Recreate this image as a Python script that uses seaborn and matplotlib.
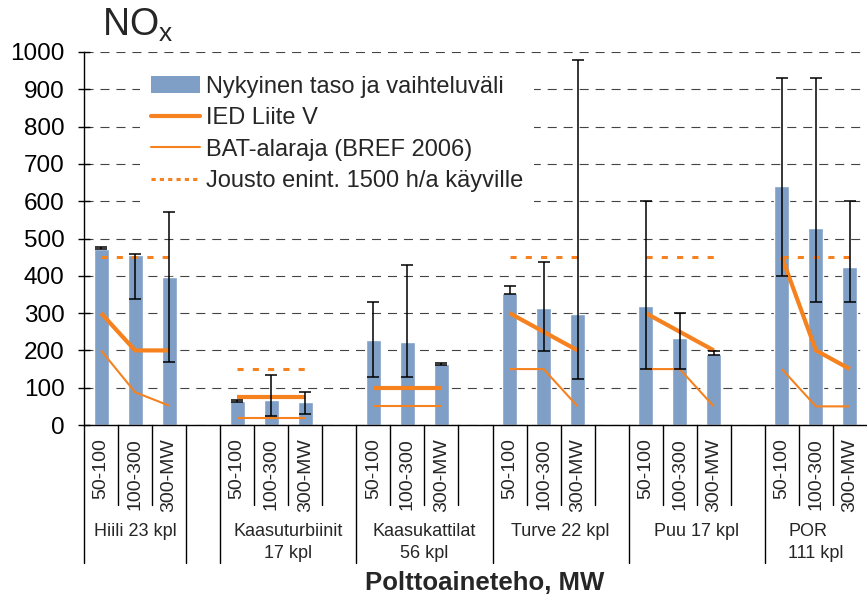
import pandas as pd
import seaborn as sns
import matplotlib.pyplot as plt
import numpy as np
from matplotlib.patches import Patch
from matplotlib.lines import Line2D
import matplotlib.transforms as mtransforms

# Data
groups = ["Hiili 23 kpl", "Kaasuturbiinit\n17 kpl", "Kaasukattilat\n56 kpl",
          "Turve 22 kpl", "Puu 17 kpl", "POR\n111 kpl"]
sizes = ["50-100", "100-300", "300-MW"]
level = [[473, 455, 397], [64, 67, 62], [228, 222, 163],
         [353, 314, 298], [319, 232, 190], [641, 527, 423]]
err_lo = [[472, 339, 170], [63, 24, 30], [130, 130, 161],
          [351, 198, 123], [150, 150, 188], [400, 330, 330]]
err_hi = [[476, 458, 570], [66, 133, 88], [330, 430, 166],
          [373, 438, 978], [600, 300, 198], [930, 930, 600]]
ied = [[300, 200, 200], [75, 75, 75], [100, 100, 100],
       [300, 250, 200], [300, 250, 200], [450, 200, 150]]
bat = [[200, 88, 52], [20, 20, 20], [50, 50, 50],
       [150, 150, 50], [150, 150, 50], [150, 50, 50]]
jousto = [450, 150, None, 450, 450, 450]

legend_labels = ["Nykyinen taso ja vaihteluväli", "IED Liite V",
                 "BAT-alaraja (BREF 2006)", "Jousto enint. 1500 h/a käyville"]

blue = "#7F9FC7"
orange = "#F5821F"

# slot order: 3 bars per group, one empty slot between groups
order = []
rows = []
for gi, g in enumerate(groups):
    for si, s in enumerate(sizes):
        key = f"{gi}-{s}"
        order.append(key)
        rows.append({"slot": key, "value": level[gi][si]})
    if gi < len(groups) - 1:
        order.append(f"gap{gi}")
df = pd.DataFrame(rows)
pos = {k: i for i, k in enumerate(order)}

sns.set_style("white")
plt.rcParams["font.family"] = ["Liberation Sans", "DejaVu Sans"]
plt.rcParams["lines.scale_dashes"] = False

fig = plt.figure(figsize=(8.67, 6.01), dpi=100)
ax = fig.add_axes([0.0969, 0.2928, 0.9031, 0.6207])

sns.barplot(data=df, x="slot", y="value", order=order, color=blue,
            saturation=1, width=0.44, errorbar=None, ax=ax, zorder=2)

for gi in range(len(groups)):
    xs = [pos[f"{gi}-{s}"] for s in sizes]
    lo = np.array(level[gi]) - np.array(err_lo[gi])
    hi = np.array(err_hi[gi]) - np.array(level[gi])
    ax.errorbar(xs, level[gi], yerr=[lo, hi], fmt="none", ecolor="black",
                elinewidth=1.1, capsize=4.2, capthick=1.1, zorder=4)
    ax.plot(xs, ied[gi], color=orange, lw=3, solid_capstyle="butt", zorder=3)
    ax.plot(xs, bat[gi], color=orange, lw=1.5, solid_capstyle="butt", zorder=3)
    if jousto[gi] is not None:
        ax.plot([xs[0], xs[-1]], [jousto[gi]] * 2, color=orange, lw=2.2,
                ls=(0, (4.4, 6.6)), dash_capstyle="butt", zorder=3)

ax.set_ylim(0, 1000)
ax.set_xlim(-0.5, len(order) - 0.5)
ax.set_yticks(range(0, 1001, 100))
ax.yaxis.grid(True, color="#444444", lw=0.8, ls=(0, (6.5, 5.0)))
ax.set_axisbelow(True)
ax.tick_params(axis="y", direction="inout", length=8, width=1, pad=10,
               labelsize=17.5, left=True, colors="black")
ax.set_xticks([])
ax.set_xlabel("")
ax.set_ylabel("")
for side in ["top", "right"]:
    ax.spines[side].set_visible(False)
for side in ["left", "bottom"]:
    ax.spines[side].set_color("black")
    ax.spines[side].set_linewidth(1)

# multi-level category axis
trans = mtransforms.blended_transform_factory(ax.transData, ax.transAxes)
long_at = [-0.5, 2.5, 3.5, 7.5, 11.5, 15.5, 19.5]
for b in np.arange(-0.5, len(order) - 1, 1.0):
    y_end = -0.37 if b in long_at else -0.215
    ax.plot([b, b], [0, y_end], color="black", lw=1, transform=trans, clip_on=False)
for gi in range(len(groups)):
    for s in sizes:
        ax.text(pos[f"{gi}-{s}"], -0.035, s, rotation=90, ha="center", va="top",
                fontsize=14, transform=trans)
group_centers = [1, 5.5, 9.5, 13.5, 17.5, 21]
for gi, g in enumerate(groups):
    ax.text(group_centers[gi], -0.262, g, ha="center", va="top", fontsize=13,
            linespacing=1.4, multialignment="left" if g.startswith("POR") else "center",
            transform=trans)

fig.text(485 / 867, 1 - 583 / 601, "Polttoaineteho, MW", ha="center", va="center",
         fontsize=18.5, fontweight="bold")
fig.text(102 / 867, 1 - 36 / 601, r"$\mathregular{NO_x}$", ha="left", va="baseline",
         fontsize=27)

handles = [Patch(facecolor=blue, edgecolor="none"),
           Line2D([], [], color=orange, lw=3),
           Line2D([], [], color=orange, lw=1.5),
           Line2D([], [], color=orange, lw=2.2, ls=(0, (3, 3)))]
leg = ax.legend(handles, legend_labels, loc="upper left",
                bbox_to_anchor=(0.0714, 0.965), borderaxespad=0, borderpad=0.45,
                handlelength=2.1, handletextpad=0.25, labelspacing=0.4,
                fontsize=17, frameon=True, fancybox=False, framealpha=1)
leg.get_frame().set_facecolor("white")
leg.get_frame().set_edgecolor("none")
leg.set_zorder(5)

fig.savefig("out.png", dpi=100)
